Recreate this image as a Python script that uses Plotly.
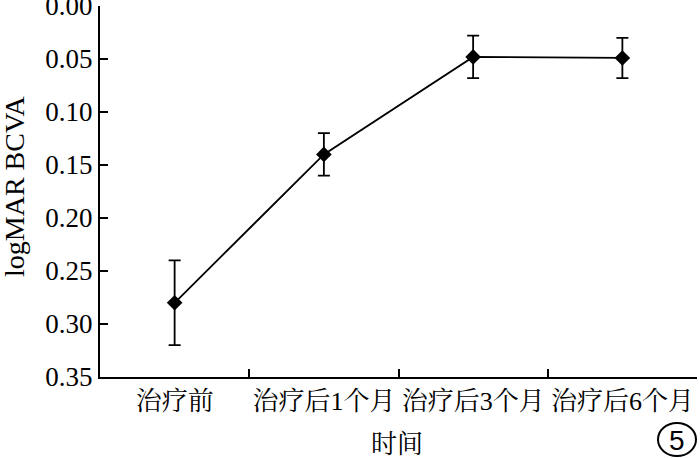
import plotly.graph_objects as go

categories = ["治疗前", "治疗后1个月", "治疗后3个月", "治疗后6个月"]
logmar = [0.28, 0.14, 0.048, 0.049]
err = [0.04, 0.02, 0.02, 0.019]
y_ticks = [0.00, 0.05, 0.10, 0.15, 0.20, 0.25, 0.30, 0.35]

FONT = "Liberation Serif, 'Noto Serif CJK SC', 'Noto Sans CJK SC', serif"

# plot area in pixels
L, R, T, B = 100, 697, 6, 377
W, H = 700, 458


def px(x):
    return (x - L) / (R - L)


def py(y):
    return (B - y) / (B - T)


fig = go.Figure()
fig.add_trace(go.Scatter(
    x=categories, y=logmar,
    mode="lines+markers",
    line=dict(color="black", width=1.8),
    marker=dict(symbol="diamond", size=12, color="black"),
    error_y=dict(type="data", array=err, visible=True, color="black",
                 thickness=1.8, width=6),
    showlegend=False,
))

fig.update_layout(
    width=W, height=H,
    margin=dict(l=L, r=W - R, t=T, b=H - B),
    paper_bgcolor="white", plot_bgcolor="white",
    font=dict(family=FONT, size=26, color="black"),
    xaxis=dict(
        type="category",
        tickson="boundaries",
        ticks="inside", ticklen=8, tickwidth=2, tickcolor="black",
        showline=True, linecolor="black", linewidth=2.2,
        showgrid=False, zeroline=False,
        range=[-0.5, 3.5],
        automargin=False,
        tickangle=0,
        tickfont=dict(size=26),
        ticklabeloverflow="allow",
    ),
    yaxis=dict(
        autorange=False, range=[0.35, 0.0],
        tickvals=y_ticks, ticktext=[f"{v:.2f}" for v in y_ticks],
        ticks="inside", ticklen=8, tickwidth=2, tickcolor="black",
        showline=True, linecolor="black", linewidth=2.2,
        showgrid=False, zeroline=False,
        automargin=False,
        tickfont=dict(size=27),
        ticklabeloverflow="allow",
    ),
)

# axis titles
fig.add_annotation(text="logMAR BCVA", xref="paper", yref="paper",
                   x=px(14), y=py(186), xanchor="center", yanchor="middle",
                   textangle=-90, showarrow=False,
                   font=dict(size=28, family=FONT))
fig.add_annotation(text="时间", xref="paper", yref="paper",
                   x=px(397), y=py(444), xanchor="center", yanchor="middle",
                   showarrow=False,
                   font=dict(size=26, family=FONT))

# circled panel number
fig.add_shape(type="circle", xref="paper", yref="paper",
              x0=px(658), x1=px(696), y0=py(456), y1=py(423),
              line=dict(color="black", width=2))
fig.add_annotation(text="5", xref="paper", yref="paper",
                   x=px(677), y=py(440), xanchor="center", yanchor="middle",
                   showarrow=False,
                   font=dict(size=28, family="Liberation Sans, Arial, sans-serif"))

fig.write_html("out.html", config={"displayModeBar": False},
               post_script="document.body.style.margin='0';")
